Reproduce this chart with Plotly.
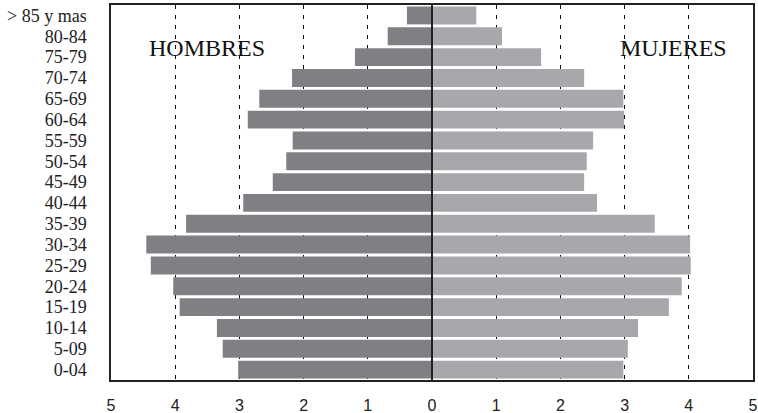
import plotly.graph_objects as go

age_groups = ["0-04", "5-09", "10-14", "15-19", "20-24", "25-29", "30-34", "35-39",
              "40-44", "45-49", "50-54", "55-59", "60-64", "65-69", "70-74", "75-79",
              "80-84", "> 85 y mas"]
hombres = [3.02, 3.26, 3.35, 3.93, 4.03, 4.38, 4.45, 3.83,
           2.94, 2.48, 2.27, 2.17, 2.87, 2.69, 2.18, 1.20,
           0.69, 0.39]
mujeres = [2.98, 3.05, 3.21, 3.69, 3.89, 4.03, 4.02, 3.47,
           2.57, 2.37, 2.41, 2.51, 2.99, 2.98, 2.37, 1.70,
           1.09, 0.69]
x_ticks = [-5, -4, -3, -2, -1, 0, 1, 2, 3, 4, 5]
x_ticktext = [str(abs(v)) for v in x_ticks]

fig = go.Figure()
fig.add_trace(go.Bar(y=age_groups, x=[-v for v in hombres], orientation="h",
                     marker=dict(color="#808084", line=dict(width=0)), name="Hombres"))
fig.add_trace(go.Bar(y=age_groups, x=mujeres, orientation="h",
                     marker=dict(color="#a8a8ac", line=dict(width=0)), name="Mujeres"))

fig.add_vline(x=0, line=dict(color="#222222", width=2), layer="above")

fig.add_annotation(x=-3.51, y=0.924, xref="x", yref="paper", text="HOMBRES", showarrow=False,
                   font=dict(family="Liberation Serif", size=24, color="#111111"))
fig.add_annotation(x=3.76, y=0.924, xref="x", yref="paper", text="MUJERES", showarrow=False,
                   font=dict(family="Liberation Serif", size=24, color="#111111"))

fig.update_layout(
    width=758, height=413,
    margin=dict(l=111, r=5, t=5, b=33, autoexpand=False),
    barmode="relative", bargap=0.14,
    showlegend=False,
    plot_bgcolor="white", paper_bgcolor="white",
    xaxis=dict(range=[-5, 5], tickmode="array", tickvals=x_ticks, ticktext=x_ticktext,
               showgrid=True, gridcolor="#111111", gridwidth=1, griddash="4px,6px",
               zeroline=False, showline=True, linecolor="#222222", linewidth=1.5, mirror=True,
               ticks="", ticklabelstandoff=10, automargin=False,
               tickfont=dict(family="Liberation Sans", size=16, color="#222222")),
    yaxis=dict(categoryorder="array", categoryarray=age_groups,
               tickmode="array", tickvals=age_groups,
               showgrid=False, zeroline=False, showline=True, linecolor="#222222",
               linewidth=1.5, mirror=True, ticks="", ticklabelstandoff=19, automargin=False,
               tickfont=dict(family="Liberation Serif", size=18, color="#222222")),
)

fig.write_html("out.html", config={"displayModeBar": False},
               post_script="document.body.style.margin='0';document.body.style.padding='0';")
